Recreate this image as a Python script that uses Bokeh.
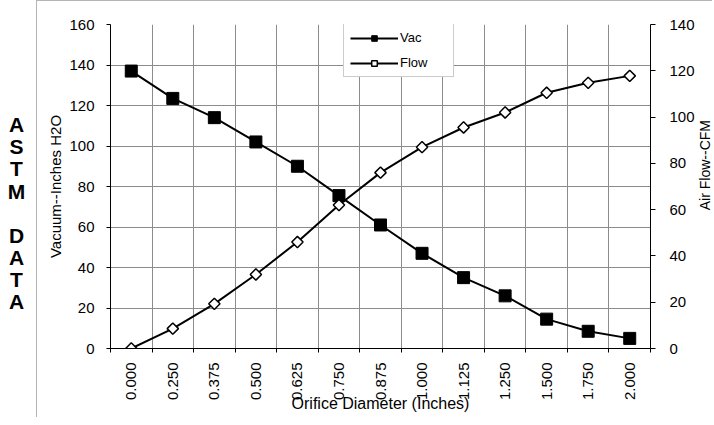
import math
from bokeh.plotting import figure
from bokeh.layouts import row
from bokeh.models import (Range1d, LinearAxis, FixedTicker, SingleIntervalTicker,
                          Legend, LegendItem)
from bokeh.core.properties import value
from bokeh.embed import file_html
from bokeh.resources import INLINE

# ---- data ----
diameters = ["0.000", "0.250", "0.375", "0.500", "0.625", "0.750", "0.875",
             "1.000", "1.125", "1.250", "1.500", "1.750", "2.000"]
vac = [137, 123.5, 114, 102, 90, 75.5, 61, 47, 35, 26, 14.5, 8.5, 5]
flow = [0, 8.6, 19.3, 32, 46, 62, 76, 87, 95.5, 102, 110.5, 114.8, 117.8]
side_letters = ["A", "S", "T", "M", "", "D", "A", "T", "A"]
right_title = "Air Flow--CFM"

FONT = "Liberation Sans"
BORDER = "1px solid #b4b4b4"
n = len(diameters)
xs = [i + 0.5 for i in range(n)]
bounds = list(range(n + 1))

H = 417
SIDE_W = 36
W = 660
RIGHT_W = 16

# ---- side strip with "ASTM DATA" ----
side = figure(width=SIDE_W, height=H + 1, output_backend="svg",
              toolbar_location=None,
              x_range=Range1d(0, SIDE_W), y_range=Range1d(H + 1, 0),
              x_axis_type=None, y_axis_type=None, min_border=0)
side.outline_line_color = None
side.grid.visible = False
sl = [(i, c) for i, c in enumerate(side_letters) if c]
side.text(x=[16] * len(sl), y=[130 + i * 28.5 for i, _ in sl],
          text=[c for _, c in sl], text_align="center", text_baseline="middle",
          text_font=value(FONT), text_font_size="21px",
          text_font_style="bold", text_color="black")

# ---- main chart ----
p = figure(width=W, height=H, output_backend="svg", toolbar_location=None,
           x_range=Range1d(0, n), y_range=Range1d(0, 160),
           min_border_left=73, min_border_right=44, min_border_top=23,
           min_border_bottom=70)
p.styles = {"border-left": BORDER, "border-top": BORDER}
p.outline_line_color = None
p.background_fill_color = "white"
p.border_fill_color = "white"

# bottom axis: labels at centers, ticks at boundaries
xa = p.xaxis[0]
xa.ticker = FixedTicker(ticks=xs, minor_ticks=bounds)
xa.major_label_overrides = {x: lab for x, lab in zip(xs, diameters)}
xa.major_tick_out = 0
xa.major_tick_in = 0
xa.minor_tick_out = 4
xa.minor_tick_in = 0
xa.minor_tick_line_color = "black"
xa.major_label_orientation = math.pi / 2
xa.major_label_standoff = 10
xa.major_label_text_font = FONT
xa.major_label_text_font_size = "15px"
xa.major_label_text_color = "black"
xa.axis_label = "Orifice Diameter (Inches)"
xa.axis_label_text_font = FONT
xa.axis_label_text_font_size = "16px"
xa.axis_label_text_font_style = "normal"
xa.axis_label_text_color = "black"
xa.axis_label_standoff = -8
xa.axis_line_color = "black"

# left axis
ya = p.yaxis[0]
ya.ticker = SingleIntervalTicker(interval=20)
ya.major_tick_out = 4
ya.major_tick_in = 0
ya.minor_tick_out = 0
ya.minor_tick_in = 0
ya.major_label_standoff = 12
ya.major_label_text_font = FONT
ya.major_label_text_font_size = "15px"
ya.major_label_text_color = "black"
ya.axis_label = "Vacuum--Inches H2O"
ya.axis_label_text_font = FONT
ya.axis_label_text_font_size = "15px"
ya.axis_label_text_font_style = "normal"
ya.axis_label_text_color = "black"
ya.axis_label_standoff = 2
ya.axis_line_color = "black"

# right axis (its title is drawn in the strip to the right)
p.extra_y_ranges = {"flow": Range1d(0, 140)}
ra = LinearAxis(y_range_name="flow", ticker=SingleIntervalTicker(interval=20))
ra.major_tick_out = 5
ra.major_tick_in = 0
ra.minor_tick_out = 0
ra.minor_tick_in = 0
ra.major_label_standoff = 14
ra.major_label_text_font = FONT
ra.major_label_text_font_size = "15px"
ra.major_label_text_color = "black"
ra.axis_line_color = "black"
p.add_layout(ra, "right")

# grids
p.xgrid.ticker = FixedTicker(ticks=bounds)
p.xgrid.grid_line_color = "#8c8c8c"
p.ygrid.grid_line_color = "#8c8c8c"

# series
l1 = p.line(xs, vac, line_color="black", line_width=2)
s1 = p.scatter(xs, vac, marker="square", size=12, fill_color="black",
               line_color="black")
l2 = p.line(xs, flow, line_color="black", line_width=2, y_range_name="flow")
s2 = p.scatter(xs, flow, marker="square", angle=math.pi / 4, size=8,
               fill_color="white", line_color="black", line_width=1.5,
               y_range_name="flow")

legend = Legend(items=[LegendItem(label="Vac", renderers=[l1, s1]),
                       LegendItem(label="Flow", renderers=[l2, s2])],
                location=(233, 271), orientation="vertical",
                glyph_width=48, glyph_height=14, label_height=14,
                label_width=47, label_standoff=2, spacing=10, padding=6,
                margin=0, border_line_color="#9a9a9a",
                background_fill_color="white", background_fill_alpha=1,
                label_text_font=FONT, label_text_font_size="13px",
                label_text_color="black")
p.add_layout(legend, "center")

# ---- right strip with the right-axis title ----
rs = figure(width=RIGHT_W, height=H, output_backend="svg",
            toolbar_location=None,
            x_range=Range1d(0, RIGHT_W), y_range=Range1d(H, 0),
            x_axis_type=None, y_axis_type=None, min_border=0)
rs.styles = {"border-top": BORDER}
rs.outline_line_color = None
rs.grid.visible = False
rs.text(x=[RIGHT_W / 2], y=[181], text=[right_title], angle=math.pi / 2,
        text_align="center", text_baseline="middle",
        text_font=value(FONT), text_font_size="14px", text_color="black")

layout = row(side, p, rs, spacing=0)
open("out.html", "w").write(file_html(layout, INLINE))
